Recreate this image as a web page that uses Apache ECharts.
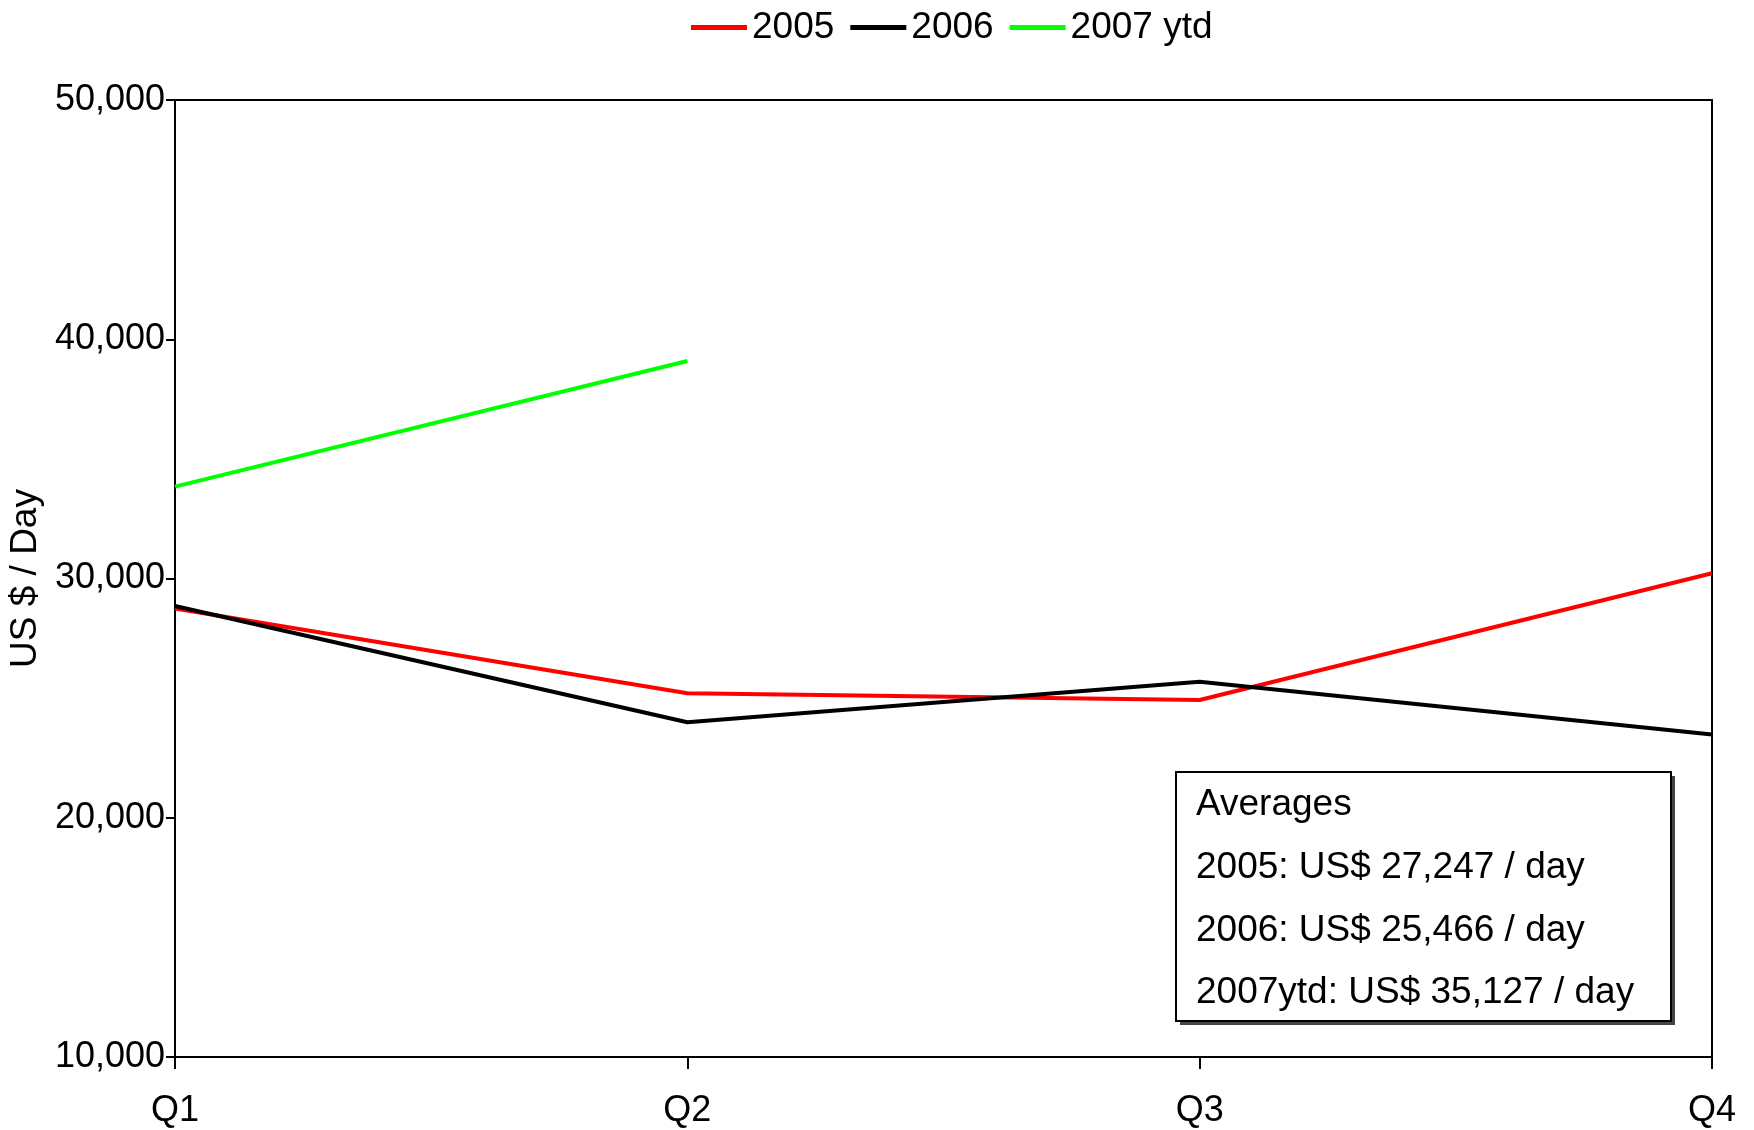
<!DOCTYPE html>
<html>
<head>
<meta charset="utf-8">
<script src="https://cdn.jsdelivr.net/npm/echarts@6/dist/echarts.min.js"></script>
<style>html,body{margin:0;padding:0;background:#fff}#c{width:1754px;height:1130px}</style>
</head>
<body>
<div id="c"></div>
<script>
var categories = ['Q1', 'Q2', 'Q3', 'Q4'];
var s2005 = [28750, 25200, 24920, 30220];
var s2006 = [28850, 23990, 25680, 23480];
var s2007 = [33840, 39090, null, null];
var yTicks = [10000, 20000, 30000, 40000, 50000];
var averagesLines = ['Averages', '2005: US$ 27,247 / day', '2006: US$ 25,466 / day', '2007ytd: US$ 35,127 / day'];

var FONT = '"Liberation Sans", Arial, sans-serif';
var chart = echarts.init(document.getElementById('c'), null, {renderer: 'canvas'});

var graphics = [
  {type: 'rect', x: 1180, y: 776, shape: {x: 0, y: 0, width: 495, height: 249},
    style: {fill: '#444'}, z: 10},
  {type: 'rect', x: 1176, y: 772, shape: {x: 0, y: 0, width: 495, height: 249},
    style: {fill: '#fff', stroke: '#000', lineWidth: 2}, z: 11}
];
averagesLines.forEach(function (t, i) {
  graphics.push({
    type: 'text', x: 1196, y: 805 + i * 62.7, z: 12,
    style: {text: t, fill: '#000', fontSize: 37, fontFamily: FONT, verticalAlign: 'middle', align: 'left'}
  });
});

chart.setOption({
  animation: false,
  backgroundColor: '#fff',
  textStyle: {fontFamily: FONT},
  legend: {
    left: 686, top: 4,
    icon: 'rect', itemWidth: 56, itemHeight: 5, itemGap: 16,
    textStyle: {fontSize: 37, color: '#000', fontFamily: FONT},
    data: ['2005', '2006', '2007 ytd']
  },
  grid: {
    left: 175, right: 42, top: 100, bottom: 73,
    outerBoundsMode: 'none', containLabel: false,
    show: true, borderColor: '#000', borderWidth: 2, backgroundColor: 'transparent'
  },
  xAxis: {
    type: 'category', data: categories, boundaryGap: false,
    axisLine: {lineStyle: {color: '#000', width: 2}},
    axisTick: {show: true, length: 12, inside: false, lineStyle: {color: '#000', width: 2}, alignWithLabel: true},
    axisLabel: {fontSize: 36, color: '#000', margin: 36, fontFamily: FONT, interval: 0},
    splitLine: {show: false}
  },
  yAxis: {
    type: 'value', min: yTicks[0], max: yTicks[yTicks.length - 1], interval: 10000,
    name: 'US $ / Day', nameLocation: 'middle', nameGap: 127, nameRotate: 90,
    nameTextStyle: {fontSize: 37, color: '#000', fontFamily: FONT},
    axisLine: {show: true, lineStyle: {color: '#000', width: 2}},
    axisTick: {show: true, length: 9, lineStyle: {color: '#000', width: 2}},
    axisLabel: {fontSize: 36, color: '#000', margin: 10, fontFamily: FONT,
      formatter: function (v) { return v.toLocaleString('en-US'); }},
    splitLine: {show: false}
  },
  series: [
    {name: '2005', type: 'line', data: s2005, showSymbol: false, symbol: 'none',
      lineStyle: {color: '#ff0000', width: 4}, itemStyle: {color: '#ff0000'}},
    {name: '2006', type: 'line', data: s2006, showSymbol: false, symbol: 'none',
      lineStyle: {color: '#000000', width: 4}, itemStyle: {color: '#000000'}},
    {name: '2007 ytd', type: 'line', data: s2007, showSymbol: false, symbol: 'none',
      lineStyle: {color: '#00ff00', width: 4}, itemStyle: {color: '#00ff00'}}
  ],
  graphic: graphics
});
</script>
</body>
</html>
